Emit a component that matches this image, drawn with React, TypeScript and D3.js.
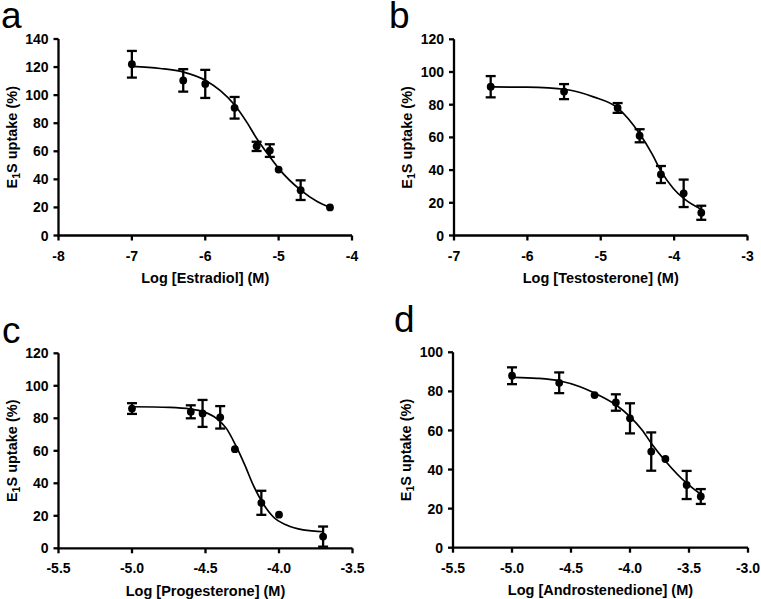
import React from 'react';
import * as d3 from 'd3';

// ---------- Panel a : Estradiol ----------
const aDoseLog = [-7.0, -6.3, -6.0, -5.6, -5.3, -5.12, -5.0, -4.7, -4.3];
const aUptake = [122, 110.5, 108, 91, 63.5, 60.5, 47, 32.3, 20];
const aSem = [9.5, 8, 10, 7.7, 3.3, 4.5, 0, 7, 0];
const aCurveX = [-7.0, -6.613, -6.295, -5.989, -5.794, -5.599, -5.43, -5.303, -5.116, -4.989, -4.699, -4.475, -4.297];
const aCurveY = [120.5, 119, 116.4, 110.3, 103.2, 93, 80.4, 69.5, 55.8, 47.1, 32.3, 24.2, 20];
const aXTicks = [-8, -7, -6, -5, -4];
const aXTickLabels = ['-8', '-7', '-6', '-5', '-4'];
const aYTicks = [0, 20, 40, 60, 80, 100, 120, 140];
const aYTickLabels = ['0', '20', '40', '60', '80', '100', '120', '140'];

// ---------- Panel b : Testosterone ----------
const bDoseLog = [-6.5, -5.5, -4.77, -4.47, -4.18, -3.87, -3.63];
const bUptake = [91, 88, 78, 61, 37.3, 25.8, 13.9];
const bSem = [6.5, 4.6, 3, 4, 5.2, 8.4, 4.3];
const bCurveX = [-6.486, -6.008, -5.472, -5.1, -4.772, -4.472, -4.303, -4.176, -4.008, -3.866, -3.621];
const bCurveY = [90.9, 90.7, 89.3, 84.8, 78.1, 62.4, 50.1, 39.2, 28.6, 22.5, 15.8];
const bXTicks = [-7, -6, -5, -4, -3];
const bXTickLabels = ['-7', '-6', '-5', '-4', '-3'];
const bYTicks = [0, 20, 40, 60, 80, 100, 120];
const bYTickLabels = ['0', '20', '40', '60', '80', '100', '120'];

// ---------- Panel c : Progesterone ----------
const cDoseLog = [-5.0, -4.6, -4.52, -4.4, -4.3, -4.12, -4.0, -3.7];
const cUptake = [86, 84, 83, 80.6, 61, 28, 20.7, 7.2];
const cSem = [3.3, 4, 8.3, 6.9, 0, 7.4, 0, 6.2];
const cCurveX = [-4.998, -4.744, -4.603, -4.517, -4.426, -4.358, -4.296, -4.233, -4.176, -4.119, -4.04, -3.949, -3.836, -3.695];
const cCurveY = [87.1, 86.7, 85.7, 84.1, 80, 73.8, 63.6, 51.3, 39, 29.1, 19.4, 14.3, 11.3, 10.2];
const cXTicks = [-5.5, -5.0, -4.5, -4.0, -3.5];
const cXTickLabels = ['-5.5', '-5.0', '-4.5', '-4.0', '-3.5'];
const cYTicks = [0, 20, 40, 60, 80, 100, 120];
const cYTickLabels = ['0', '20', '40', '60', '80', '100', '120'];

// ---------- Panel d : Androstenedione ----------
const dDoseLog = [-5.0, -4.6, -4.3, -4.12, -4.0, -3.82, -3.7, -3.52, -3.4];
const dUptake = [88, 84.4, 78.1, 74.3, 66.2, 49.2, 45.4, 32.1, 26.2];
const dSem = [4.3, 5.3, 0, 4.2, 7.7, 9.8, 0, 7.2, 3.8];
const dCurveX = [-4.987, -4.789, -4.592, -4.423, -4.296, -4.118, -3.994, -3.901, -3.82, -3.695, -3.52, -3.393];
const dCurveY = [87.2, 86.7, 85.3, 82.4, 79, 73, 66.7, 60.5, 53.5, 44, 33, 27];
const dXTicks = [-5.5, -5.0, -4.5, -4.0, -3.5, -3.0];
const dXTickLabels = ['-5.5', '-5.0', '-4.5', '-4.0', '-3.5', '-3.0'];
const dYTicks = [0, 20, 40, 60, 80, 100];
const dYTickLabels = ['0', '20', '40', '60', '80', '100'];

const panelLetters = ['a', 'b', 'c', 'd'];
const xTitles = ['Log [Estradiol] (M)', 'Log [Testosterone] (M)', 'Log [Progesterone] (M)', 'Log [Androstenedione] (M)'];

const FONT = 'Liberation Sans, Arial, Helvetica, sans-serif';

type PanelCfg = {
  letter: string;
  letterX: number;
  letterY: number;
  xTitle: string;
  xDomain: [number, number];
  yDomain: [number, number];
  left: number;
  right: number;
  top: number;
  bottom: number;
  doseLog: number[];
  uptake: number[];
  sem: number[];
  curveX: number[];
  curveY: number[];
  xTicks: number[];
  xTickLabels: string[];
  yTicks: number[];
  yTickLabels: string[];
};

const panels: PanelCfg[] = [
  {
    letter: panelLetters[0], letterX: 1, letterY: 27.5, xTitle: xTitles[0],
    xDomain: [-8, -4], yDomain: [0, 140], left: 58.5, right: 352, top: 39, bottom: 235.5,
    doseLog: aDoseLog, uptake: aUptake, sem: aSem, curveX: aCurveX, curveY: aCurveY,
    xTicks: aXTicks, xTickLabels: aXTickLabels, yTicks: aYTicks, yTickLabels: aYTickLabels,
  },
  {
    letter: panelLetters[1], letterX: 389, letterY: 27.5, xTitle: xTitles[1],
    xDomain: [-7, -3], yDomain: [0, 120], left: 454, right: 747.5, top: 39.3, bottom: 235.5,
    doseLog: bDoseLog, uptake: bUptake, sem: bSem, curveX: bCurveX, curveY: bCurveY,
    xTicks: bXTicks, xTickLabels: bXTickLabels, yTicks: bYTicks, yTickLabels: bYTickLabels,
  },
  {
    letter: panelLetters[2], letterX: 2, letterY: 343, xTitle: xTitles[2],
    xDomain: [-5.5, -3.5], yDomain: [0, 120], left: 58.5, right: 352.5, top: 353.3, bottom: 548.3,
    doseLog: cDoseLog, uptake: cUptake, sem: cSem, curveX: cCurveX, curveY: cCurveY,
    xTicks: cXTicks, xTickLabels: cXTickLabels, yTicks: cYTicks, yTickLabels: cYTickLabels,
  },
  {
    letter: panelLetters[3], letterX: 394, letterY: 332, xTitle: xTitles[3],
    xDomain: [-5.5, -3.0], yDomain: [0, 100], left: 453, right: 748, top: 352.3, bottom: 547.7,
    doseLog: dDoseLog, uptake: dUptake, sem: dSem, curveX: dCurveX, curveY: dCurveY,
    xTicks: dXTicks, xTickLabels: dXTickLabels, yTicks: dYTicks, yTickLabels: dYTickLabels,
  },
];

function Panel({ cfg }: { cfg: PanelCfg }) {
  const x = d3.scaleLinear().domain(cfg.xDomain).range([cfg.left, cfg.right]);
  const y = d3.scaleLinear().domain(cfg.yDomain).range([cfg.bottom, cfg.top]);
  const line = d3
    .line<number>()
    .x((d) => x(d))
    .y((_, i) => y(cfg.curveY[i]))
    .curve(d3.curveMonotoneX);
  const curvePath = line(cfg.curveX) || '';
  const axisW = 2.3;
  const tickLen = 5;
  const capHalf = 5;
  const midX = (cfg.left + cfg.right) / 2;
  const midY = (cfg.top + cfg.bottom) / 2;
  const yTitleX = cfg.left - 42;

  return (
    <g>
      <text x={cfg.letterX} y={cfg.letterY} fontFamily={FONT} fontSize={37} fill="#000">
        {cfg.letter}
      </text>

      {/* fitted curve */}
      <path d={curvePath} fill="none" stroke="#000" strokeWidth={1.7} />

      {/* error bars */}
      {cfg.doseLog.map((dx, i) =>
        cfg.sem[i] > 0 ? (
          <g key={'e' + i} stroke="#000" strokeWidth={2.3}>
            <line x1={x(dx)} x2={x(dx)} y1={y(cfg.uptake[i] - cfg.sem[i])} y2={y(cfg.uptake[i] + cfg.sem[i])} />
            <line x1={x(dx) - capHalf} x2={x(dx) + capHalf} y1={y(cfg.uptake[i] + cfg.sem[i])} y2={y(cfg.uptake[i] + cfg.sem[i])} />
            <line x1={x(dx) - capHalf} x2={x(dx) + capHalf} y1={y(cfg.uptake[i] - cfg.sem[i])} y2={y(cfg.uptake[i] - cfg.sem[i])} />
          </g>
        ) : null
      )}

      {/* points */}
      {cfg.doseLog.map((dx, i) => (
        <circle key={'p' + i} cx={x(dx)} cy={y(cfg.uptake[i])} r={3.9} fill="#000" />
      ))}

      {/* axes */}
      <path
        d={`M${cfg.left},${y(cfg.yDomain[1])}V${cfg.bottom}H${x(cfg.xDomain[1])}`}
        fill="none"
        stroke="#000"
        strokeWidth={axisW}
        strokeLinejoin="miter"
      />
      {cfg.yTicks.map((t, i) => (
        <g key={'yt' + i}>
          <line x1={cfg.left - tickLen} x2={cfg.left} y1={y(t)} y2={y(t)} stroke="#000" strokeWidth={axisW} />
          <text
            x={cfg.left - 10}
            y={y(t)}
            dy="0.36em"
            textAnchor="end"
            fontFamily={FONT}
            fontWeight="bold"
            fontSize={14}
            fill="#000"
          >
            {cfg.yTickLabels[i]}
          </text>
        </g>
      ))}
      {cfg.xTicks.map((t, i) => (
        <g key={'xt' + i}>
          <line x1={x(t)} x2={x(t)} y1={cfg.bottom} y2={cfg.bottom + tickLen} stroke="#000" strokeWidth={axisW} />
          <text
            x={x(t)}
            y={cfg.bottom + 25}
            textAnchor="middle"
            fontFamily={FONT}
            fontWeight="bold"
            fontSize={14}
            fill="#000"
          >
            {cfg.xTickLabels[i]}
          </text>
        </g>
      ))}

      {/* axis titles */}
      <text
        x={midX}
        y={cfg.bottom + 47.5}
        textAnchor="middle"
        fontFamily={FONT}
        fontWeight="bold"
        fontSize={14.5}
        fill="#000"
      >
        {cfg.xTitle}
      </text>
      <text
        transform={`translate(${yTitleX},${midY}) rotate(-90)`}
        textAnchor="middle"
        fontFamily={FONT}
        fontWeight="bold"
        fontSize={14.5}
        fill="#000"
      >
        E<tspan fontSize={10.5} dy={3}>1</tspan>
        <tspan dy={-3}>S uptake (%)</tspan>
      </text>
    </g>
  );
}

export default function App() {
  return (
    <svg
      width={761}
      height={599}
      viewBox="0 0 761 599"
      style={{ position: 'absolute', left: 0, top: 0, background: '#fff' }}
    >
      <rect x={0} y={0} width={761} height={599} fill="#fff" />
      {panels.map((p, i) => (
        <Panel key={i} cfg={p} />
      ))}
    </svg>
  );
}
